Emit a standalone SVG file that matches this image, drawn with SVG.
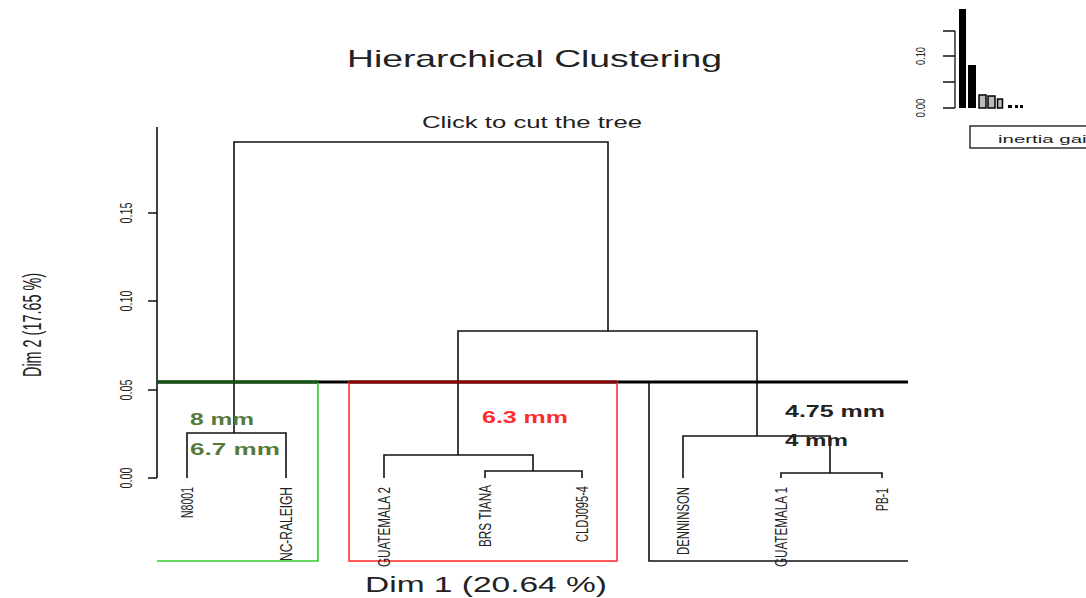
<svg xmlns="http://www.w3.org/2000/svg" width="1086" height="598" viewBox="0 0 1086 598">
<style>
.t{font-family:"Liberation Sans",Arial,sans-serif;fill:#222}
.leaf{font-family:"Liberation Sans",Arial,sans-serif;font-size:17px;fill:#222}
.tick{font-family:"Liberation Sans",Arial,sans-serif;font-size:16px;fill:#222}
.ln{stroke:#111;stroke-width:1.6;fill:none}
.mm{font-family:"Liberation Sans",Arial,sans-serif;font-size:16px;font-weight:bold}
</style>
<rect width="1086" height="598" fill="#fff"/>
<g id="title">
<text class="t" x="347" y="67" font-size="24" textLength="375" lengthAdjust="spacingAndGlyphs">Hierarchical Clustering</text>
<text class="t" x="422" y="128" font-size="16" textLength="220" lengthAdjust="spacingAndGlyphs">Click to cut the tree</text>
<text class="t" x="365" y="592" font-size="22" textLength="242" lengthAdjust="spacingAndGlyphs">Dim 1 (20.64 %)</text>
<text class="t" transform="translate(41,325) rotate(-90)" text-anchor="middle" font-size="26" textLength="104" lengthAdjust="spacingAndGlyphs">Dim 2 (17.65 %)</text>
</g>
<g id="yaxis">
<path class="ln" d="M157 127V478M148 213H157M148 301H157M148 390H157M148 478H157"/>
<text class="tick" transform="translate(132,213) rotate(-90)" text-anchor="middle" textLength="21" lengthAdjust="spacingAndGlyphs">0.15</text>
<text class="tick" transform="translate(132,301) rotate(-90)" text-anchor="middle" textLength="21" lengthAdjust="spacingAndGlyphs">0.10</text>
<text class="tick" transform="translate(132,390) rotate(-90)" text-anchor="middle" textLength="21" lengthAdjust="spacingAndGlyphs">0.05</text>
<text class="tick" transform="translate(132,478) rotate(-90)" text-anchor="middle" textLength="21" lengthAdjust="spacingAndGlyphs">0.00</text>
</g>
<g id="connectors">
<path class="ln" d="M234 433V142H608V331"/>
<path class="ln" d="M187 478V433H286V478"/>
<path class="ln" d="M458 455V331H757V436"/>
<path class="ln" d="M384 478V455H533V471"/>
<path class="ln" d="M485 478V471H582V478"/>
<path class="ln" d="M683 478V436H830V473"/>
<path class="ln" d="M781 478V473H882V478"/>
</g>
<g id="cut">
<line x1="157" y1="382" x2="908" y2="382" stroke="#000" stroke-width="3"/>
</g>
<g id="cluster1">
<path d="M157 561H318V382" fill="none" stroke="#33cc33" stroke-width="1.6"/>
<line x1="157" y1="382" x2="318" y2="382" stroke="#115511" stroke-width="3"/>
<text class="mm" x="190" y="425" fill="#557a3c" textLength="64" lengthAdjust="spacingAndGlyphs">8 mm</text>
<text class="mm" x="190" y="455" fill="#557a3c" textLength="90" lengthAdjust="spacingAndGlyphs">6.7 mm</text>
</g>
<g id="cluster2">
<rect x="349" y="382" width="268" height="179" fill="none" stroke="#ff3333" stroke-width="1.6"/>
<line x1="349" y1="382" x2="617" y2="382" stroke="#8b0000" stroke-width="3"/>
<text class="mm" x="482" y="423" fill="#ff2a2a" textLength="86" lengthAdjust="spacingAndGlyphs">6.3 mm</text>
</g>
<g id="cluster3">
<path d="M649 382V561H908" fill="none" stroke="#111" stroke-width="1.6"/>
<text class="mm" x="785" y="417" fill="#222" textLength="100" lengthAdjust="spacingAndGlyphs">4.75 mm</text>
<text class="mm" x="785" y="446" fill="#222" textLength="63" lengthAdjust="spacingAndGlyphs">4 mm</text>
</g>
<g id="leaves">
<text class="leaf" transform="translate(193,487) rotate(-90)" text-anchor="end" textLength="31" lengthAdjust="spacingAndGlyphs">N8001</text>
<text class="leaf" transform="translate(292,487) rotate(-90)" text-anchor="end" textLength="74" lengthAdjust="spacingAndGlyphs">NC-RALEIGH</text>
<text class="leaf" transform="translate(390,487) rotate(-90)" text-anchor="end" textLength="80" lengthAdjust="spacingAndGlyphs">GUATEMALA 2</text>
<text class="leaf" transform="translate(491,485) rotate(-90)" text-anchor="end" textLength="62" lengthAdjust="spacingAndGlyphs">BRS TIANA</text>
<text class="leaf" transform="translate(588,486) rotate(-90)" text-anchor="end" textLength="56" lengthAdjust="spacingAndGlyphs">CLDJ095-4</text>
<text class="leaf" transform="translate(689,487) rotate(-90)" text-anchor="end" textLength="68" lengthAdjust="spacingAndGlyphs">DENNINSON</text>
<text class="leaf" transform="translate(787,487) rotate(-90)" text-anchor="end" textLength="80" lengthAdjust="spacingAndGlyphs">GUATEMALA 1</text>
<text class="leaf" transform="translate(888,488) rotate(-90)" text-anchor="end" textLength="23" lengthAdjust="spacingAndGlyphs">PB-1</text>
</g>
<g id="inset">
<path d="M955 31V108M943 31H955M943 56H955M943 82H955M943 108H955" fill="none" stroke="#111" stroke-width="1.3"/>
<text class="t" transform="translate(925,56) rotate(-90)" text-anchor="middle" font-size="12" textLength="18" lengthAdjust="spacingAndGlyphs">0.10</text>
<text class="t" transform="translate(925,108) rotate(-90)" text-anchor="middle" font-size="12" textLength="19" lengthAdjust="spacingAndGlyphs">0.00</text>
<rect x="959" y="9" width="7" height="99" fill="#000"/>
<rect x="968" y="65" width="8" height="43" fill="#000"/>
<rect x="979" y="95" width="7" height="13" fill="#bbb" stroke="#000" stroke-width="1.5"/>
<rect x="988" y="96" width="7" height="12" fill="#bbb" stroke="#000" stroke-width="1.5"/>
<rect x="997.5" y="99" width="5" height="9" fill="#bbb" stroke="#000" stroke-width="1.5"/>
<rect x="1008" y="105" width="4" height="3" fill="#000"/>
<rect x="1015" y="105" width="3" height="3" fill="#000"/>
<rect x="1020" y="105" width="3" height="3" fill="#000"/>
<rect x="970" y="126" width="130" height="22" fill="#fff" stroke="#111" stroke-width="1.3"/>
<text class="t" x="998" y="143" font-size="11" textLength="100" lengthAdjust="spacingAndGlyphs">inertia gain</text>
</g>
</svg>
